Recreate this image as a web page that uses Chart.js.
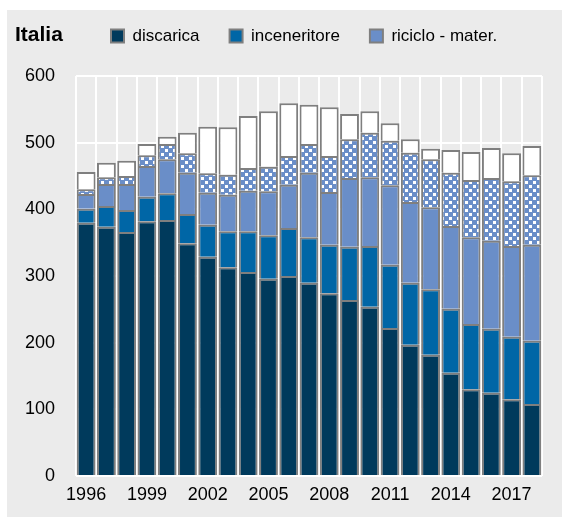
<!DOCTYPE html>
<html>
<head>
<meta charset="utf-8">
<script src="https://cdn.jsdelivr.net/npm/chart.js@4/dist/chart.umd.min.js"></script>
<style>
  html, body { margin: 0; padding: 0; background: #fff; }
  #wrap { width: 562px; height: 517px; }
</style>
</head>
<body>
<div id="wrap"><canvas id="myChart" width="562" height="517"></canvas></div>
<script>
const years = ['1996','1997','1998','1999','2000','2001','2002','2003','2004','2005','2006','2007',
               '2008','2009','2010','2011','2012','2013','2014','2015','2016','2017','2018'];
const discarica    = [380,374,366,382,384,349,329,313,306,296,300,290,274,264,254,222,197,182,155,130,125,115,108];
const inceneritore = [21,31,33,37,40,44,48,54,61,65,72,68,73,80,91,95,93,98,96,98,96,94,95];
const riciclo      = [22,33,39,46,51,62,48,55,61,66,65,97,79,103,103,119,121,123,124,130,132,136,144];
const compostaggio = [7,10,12,16,23,29,29,30,34,37,43,43,54,58,67,67,74,72,80,86,94,97,104];
const altro        = [26,22,23,17,11,31,70,71,78,83,79,59,73,38,32,26,20,16,34,42,45,42,44];
const yTicks = [0,100,200,300,400,500,600];

const FONT = "'Liberation Sans', Arial, sans-serif";

document.addEventListener('DOMContentLoaded', function () {
    const ctx = document.getElementById('myChart').getContext('2d');

    // dotted fill for the compost series
    const tile = document.createElement('canvas');
    tile.width = 8; tile.height = 8;
    const t = tile.getContext('2d');
    t.fillStyle = '#6a8ec8';
    t.fillRect(0, 0, 8, 8);
    t.fillStyle = '#ffffff';
    t.fillRect(1, 1, 3, 3);
    t.fillRect(5, 5, 3, 3);
    const dots = ctx.createPattern(tile, 'repeat');

    const LEG_PAD = 30;
    const LEG_FONT = 17;

    const panel = {
        id: 'panel',
        beforeDraw: (chart) => {
            const c = chart.ctx;
            c.save();
            c.fillStyle = '#ffffff';
            c.fillRect(0, 0, chart.width, chart.height);
            c.fillStyle = '#ebebeb';
            c.fillRect(7, 10, chart.width - 7, chart.height - 10);
            c.restore();
        },
        afterLayout: (chart) => {
            // put legend next to the title, like the original
            const lg = chart.legend;
            lg.left = 111 - LEG_PAD;
            lg.right = chart.width + 100;
            lg.top = 36 - LEG_PAD - LEG_FONT / 2;
        },
        afterDraw: (chart) => {
            const c = chart.ctx;
            c.save();
            c.fillStyle = '#000';
            c.font = 'bold 21px ' + FONT;
            c.textBaseline = 'middle';
            c.fillText('Italia', 15, 35);
            c.restore();
        }
    };

    const common = { borderColor: '#7f7f7f', borderWidth: 2, barPercentage: 0.93, categoryPercentage: 1 };

    new Chart(ctx, {
        type: 'bar',
        data: {
            labels: years,
            datasets: [
                Object.assign({ label: 'discarica', data: discarica, backgroundColor: '#003a5c' }, common),
                Object.assign({ label: 'inceneritore', data: inceneritore, backgroundColor: '#0066a6' }, common),
                Object.assign({ label: 'riciclo - mater.', data: riciclo, backgroundColor: '#6a8ec8' }, common),
                Object.assign({ label: 'compostaggio', data: compostaggio, backgroundColor: dots }, common),
                Object.assign({ label: 'altro', data: altro, backgroundColor: '#ffffff' }, common)
            ]
        },
        options: {
            responsive: false,
            animation: false,
            layout: { padding: { top: 19, right: 20, left: 0, bottom: 0 } },
            plugins: {
                legend: {
                    position: 'top',
                    align: 'start',
                    labels: {
                        boxWidth: 13,
                        boxHeight: 13,
                        padding: LEG_PAD,
                        color: '#000',
                        font: { family: FONT, size: LEG_FONT },
                        filter: (item) => item.datasetIndex < 3
                    }
                },
                tooltip: { enabled: false }
            },
            scales: {
                x: {
                    stacked: true,
                    grid: { color: '#ffffff', lineWidth: 2, drawTicks: false },
                    border: { display: false },
                    ticks: {
                        autoSkip: false,
                        maxRotation: 0,
                        padding: 8,
                        color: '#000',
                        font: { family: FONT, size: 18 },
                        callback: (v, i) => (i % 3 === 0 ? years[i] : '')
                    },
                    afterFit: (s) => { s.height = 41; }
                },
                y: {
                    stacked: true,
                    min: 0,
                    max: 600,
                    afterBuildTicks: (s) => { s.ticks = yTicks.map(v => ({ value: v })); },
                    grid: { color: '#ffffff', lineWidth: 2, drawTicks: false },
                    border: { display: false },
                    ticks: {
                        padding: 21,
                        color: '#000',
                        font: { family: FONT, size: 18 }
                    },
                    afterFit: (s) => { s.width = 76; }
                }
            }
        },
        plugins: [panel]
    });
});
</script>
</body>
</html>
